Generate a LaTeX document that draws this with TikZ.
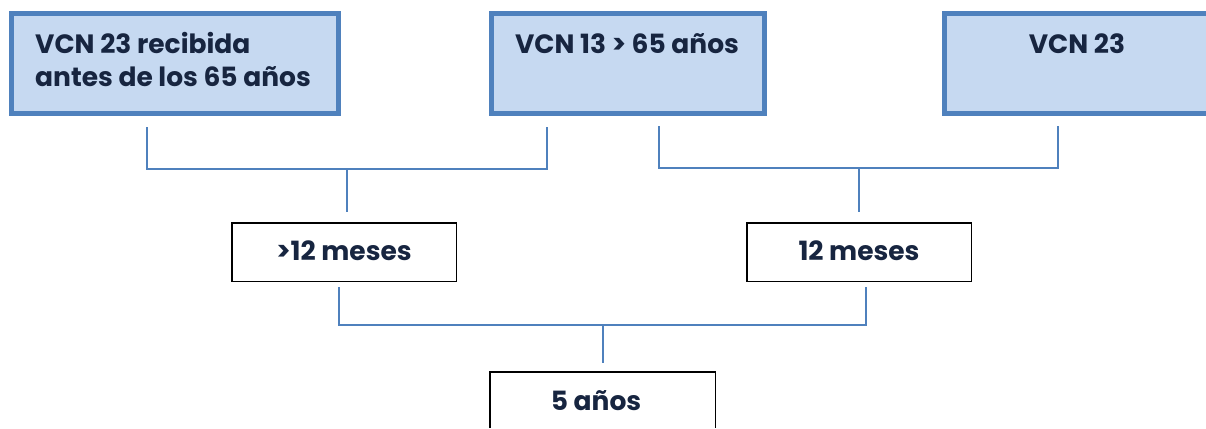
\documentclass[tikz,border=0pt]{standalone}
\usepackage{fontspec}
\setmainfont{Poppins}
\definecolor{accent}{HTML}{4F81BD}
\definecolor{lightfill}{HTML}{C6D9F1}
\definecolor{navy}{HTML}{172540}
\begin{document}
\begin{tikzpicture}[x=1pt,y=-1pt,
  topbox/.style={draw=accent, line width=5pt, fill=lightfill, minimum height=100pt, inner sep=0pt},
  midbox/.style={draw=black, line width=1.5pt, fill=white, minimum width=224.5pt, minimum height=58.5pt, inner sep=0pt},
  conn/.style={draw=accent, line width=2pt},
  txt/.style={font=\bfseries\fontsize{26.5}{33}\selectfont, text=navy, inner sep=0pt}]
\useasboundingbox (0,0) rectangle (1206,428);
% top boxes
\node[topbox, minimum width=327pt] (b1) at (175,63.5) {};
\node[topbox, minimum width=273pt] (b2) at (628,63.5) {};
\path[fill=lightfill] (944.5,13.5) rectangle (1206,113.5);
\draw[accent, line width=5pt] (1206,13.5) -- (944.5,13.5) -- (944.5,113.5) -- (1206,113.5);
\node[inner sep=0pt, minimum width=261.5pt, minimum height=100pt] (b3) at (1075.25,63.5) {};
% middle boxes
\node[midbox] (m1) at (344,252) {};
\node[midbox] (m2) at (859,252) {};
% bottom box
\path[fill=white] (489.75,371.75) rectangle (715.25,428);
\draw[black, line width=1.5pt] (489.75,428) -- (489.75,371.75) -- (715.25,371.75) -- (715.25,428);
\node[inner sep=0pt, minimum width=225.5pt, minimum height=56.25pt] (f) at (602.5,399.875) {};
% texts
\node[txt, anchor=base west, align=left] (t1) at (35,86) {VCN 23 recibida\\antes de los 65 años};
\node[txt, anchor=base] (t2) at (627,53) {VCN 13 > 65 años};
\node[txt, anchor=base] (t3) at (1077,53) {VCN 23};
\node[txt, anchor=base] (t4) at (344,260) {>12 meses};
\node[txt, anchor=base] (t5) at (859,260) {12 meses};
\node[txt, anchor=base] (t6) at (596,410) {5 años};
% connectors
\coordinate (m1t) at ([yshift=10pt]m1.north);
\coordinate (m2t) at ([yshift=10pt]m2.north);
\coordinate (ft) at ([yshift=9pt]f.north);
\coordinate (l1) at (147,127);
\coordinate (l2) at (547,127);
\coordinate (j1) at (347,169);
\draw[conn] (l1) |- (j1) -| (l2);
\draw[conn] (j1) -- (j1 |- m1t);
\coordinate (r1) at (659,126);
\coordinate (r2) at (1058,126);
\coordinate (j2) at (859,168);
\draw[conn] (r1) |- (j2) -| (r2);
\draw[conn] (j2) -- (j2 |- m2t);
\coordinate (d1) at (339,287);
\coordinate (d2) at (866,287);
\coordinate (j3) at (603,325);
\draw[conn] (d1) |- (j3) -| (d2);
\draw[conn] (j3) -- (j3 |- ft);
\end{tikzpicture}
\end{document}
